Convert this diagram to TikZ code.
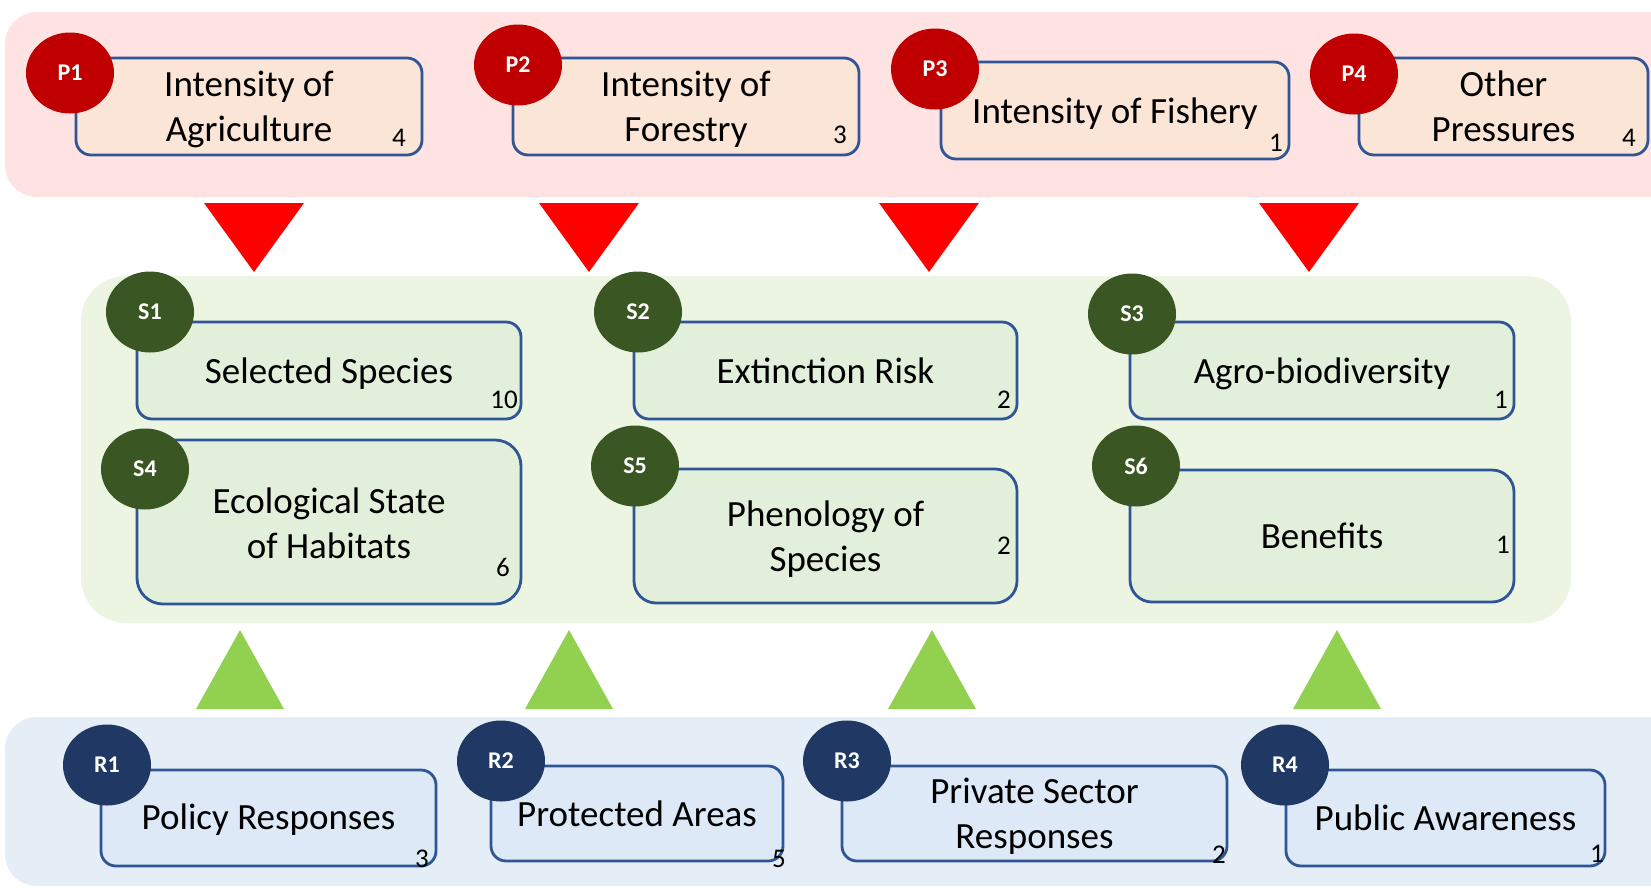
\documentclass[tikz,border=0pt]{standalone}
\usepackage{fontspec}
\setmainfont{Carlito}
\usetikzlibrary{shapes.geometric}
\definecolor{pband}{HTML}{FFE2E2}
\definecolor{sband}{HTML}{EBF5E2}
\definecolor{rband}{HTML}{E5EDF6}
\definecolor{pbox}{HTML}{FBE5D6}
\definecolor{sbox}{HTML}{E2EFDA}
\definecolor{rbox}{HTML}{DDE9F6}
\definecolor{boxline}{HTML}{2F5597}
\definecolor{pcirc}{HTML}{C00000}
\definecolor{scirc}{HTML}{3A5623}
\definecolor{rcirc}{HTML}{203864}
\definecolor{redtri}{HTML}{FF0000}
\definecolor{greentri}{HTML}{92D050}
\begin{document}
\begin{tikzpicture}[x=1pt,y=-1pt,
  box/.style={draw=boxline, line width=2.8pt, rounded corners=15pt, inner sep=0pt},
  label text/.style={align=center, inner sep=0pt, font=\fontsize{37}{45}\selectfont},
  num/.style={font=\fontsize{27}{32}\selectfont, inner sep=0pt},
  badge/.style={ellipse, minimum width=88pt, minimum height=81pt, inner sep=0pt,
    text=white, font=\bfseries\fontsize{24}{28}\selectfont},
  downtri/.style={fill=redtri},
  uptri/.style={fill=greentri}]
\useasboundingbox (0,0) rectangle (1651,887);
\begin{scope}
\clip (0,0) rectangle (1651,887);
% bands
\fill[pband, rounded corners=32pt] (5,12) rectangle (1685,197);
\fill[sband, rounded corners=45pt] (81,276) rectangle (1571,623);
\fill[rband, rounded corners=32pt] (5,717) rectangle (1685,886);
\end{scope}
% red triangles
\fill[downtri] (204,203) -- (304,203) -- (254,272) -- cycle;
\fill[downtri] (539,203) -- (639,203) -- (589,272) -- cycle;
\fill[downtri] (879,203) -- (979,203) -- (929,272) -- cycle;
\fill[downtri] (1259,203) -- (1359,203) -- (1309,272) -- cycle;
% green triangles
\fill[uptri] (196,709) -- (284,709) -- (240,630) -- cycle;
\fill[uptri] (525,709) -- (613,709) -- (569,630) -- cycle;
\fill[uptri] (888,709) -- (976,709) -- (932,630) -- cycle;
\fill[uptri] (1293,709) -- (1381,709) -- (1337,630) -- cycle;
% P boxes
\node[box, fill=pbox, minimum width=346pt, minimum height=97pt] (p1) at (249,106.5) {};
\node[box, fill=pbox, minimum width=346pt, minimum height=97pt] (p2) at (686,106.5) {};
\node[box, fill=pbox, minimum width=348pt, minimum height=97pt] (p3) at (1115,110.5) {};
\node[box, fill=pbox, minimum width=289pt, minimum height=97pt] (p4) at (1503.5,106.5) {};
% S boxes
\node[box, fill=sbox, minimum width=384pt, minimum height=97pt] (s1) at (329,370.5) {};
\node[box, fill=sbox, minimum width=383pt, minimum height=97pt] (s2) at (825.5,370.5) {};
\node[box, fill=sbox, minimum width=384pt, minimum height=97pt] (s3) at (1322,370.5) {};
\node[box, fill=sbox, rounded corners=26pt, minimum width=384pt, minimum height=164pt] (s4) at (329,522) {};
\node[box, fill=sbox, rounded corners=22pt, minimum width=383pt, minimum height=134pt] (s5) at (825.5,536) {};
\node[box, fill=sbox, rounded corners=22pt, minimum width=384pt, minimum height=132pt] (s6) at (1322,536) {};
% R boxes
\node[box, fill=rbox, minimum width=335pt, minimum height=96pt] (r1) at (268.5,818) {};
\node[box, fill=rbox, minimum width=292pt, minimum height=95pt] (r2) at (637,813.5) {};
\node[box, fill=rbox, minimum width=385pt, minimum height=95pt] (r3) at (1034.5,813.5) {};
\node[box, fill=rbox, minimum width=319pt, minimum height=96pt] (r4) at (1445.5,818) {};
% box texts
\node[label text] (p1t) at ([yshift=-3pt]p1.center) {Intensity of\\Agriculture};
\node[label text] (p2t) at ([yshift=-3pt]p2.center) {Intensity of\\Forestry};
\node[label text] (p3t) at ([yshift=-3pt]p3.center) {Intensity of Fishery};
\node[label text] (p4t) at ([yshift=0pt]p4.center) {Other\\Pressures};
\node[label text] (s1t) at ([yshift=-3pt]s1.center) {Selected Species};
\node[label text] (s2t) at ([yshift=0pt]s2.center) {Extinction Risk};
\node[label text] (s3t) at ([yshift=-3pt]s3.center) {Agro-biodiversity};
\node[label text] (s4t) at ([yshift=-1pt]s4.center) {Ecological State\\of Habitats};
\node[label text] (s5t) at ([yshift=-3pt]s5.center) {Phenology of\\Species};
\node[label text] (s6t) at ([yshift=0pt]s6.center) {Benefits};
\node[label text] (r1t) at ([yshift=-2pt]r1.center) {Policy Responses};
\node[label text] (r2t) at ([yshift=0pt]r2.center) {Protected Areas};
\node[label text] (r3t) at ([yshift=-3pt]r3.center) {Private Sector\\Responses};
\node[label text] (r4t) at ([yshift=0pt]r4.center) {Public Awareness};
% badges
\node[badge, fill=pcirc] (p1c) at (70,73) {P1};
\node[badge, fill=pcirc] (p2c) at (518,65) {P2};
\node[badge, fill=pcirc] (p3c) at (935,69) {P3};
\node[badge, fill=pcirc] (p4c) at (1354,74) {P4};
\node[badge, fill=scirc] (s1c) at (150,312) {S1};
\node[badge, fill=scirc] (s2c) at (638,312) {S2};
\node[badge, fill=scirc] (s3c) at (1132,314) {S3};
\node[badge, fill=scirc] (s4c) at (145,469) {S4};
\node[badge, fill=scirc] (s5c) at (635,466) {S5};
\node[badge, fill=scirc] (s6c) at (1136,466) {S6};
\node[badge, fill=rcirc] (r1c) at (107,765) {R1};
\node[badge, fill=rcirc] (r2c) at (501,761) {R2};
\node[badge, fill=rcirc] (r3c) at (847,761) {R3};
\node[badge, fill=rcirc] (r4c) at (1285,765) {R4};
% counts
\node[num] (p1n) at (399,138) {4};
\node[num] (p2n) at (840,135) {3};
\node[num] (p3n) at (1276,143) {1};
\node[num] (p4n) at (1629,138) {4};
\node[num] (s1n) at (504,400) {10};
\node[num] (s2n) at (1004,400) {2};
\node[num] (s3n) at (1501,400) {1};
\node[num] (s4n) at (503,567) {6};
\node[num] (s5n) at (1004,546) {2};
\node[num] (s6n) at (1503,545) {1};
\node[num] (r1n) at (422,859) {3};
\node[num] (r2n) at (779,859) {5};
\node[num] (r3n) at (1219,855) {2};
\node[num] (r4n) at (1597,854) {1};
\end{tikzpicture}
\end{document}
